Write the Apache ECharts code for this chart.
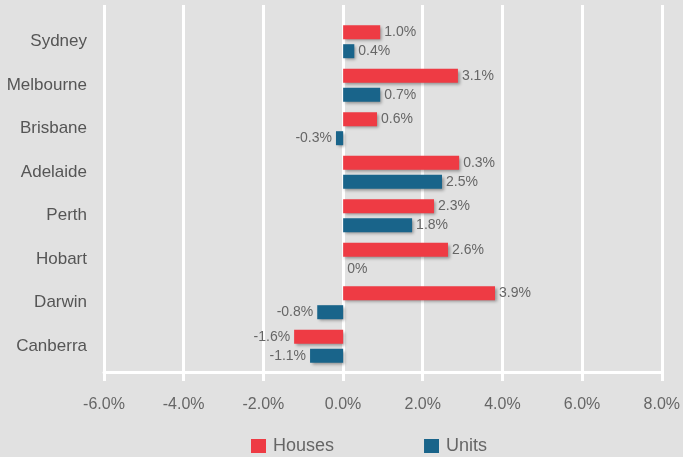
<!DOCTYPE html>
<html>
<head>
<meta charset="utf-8">
<script src="https://cdn.jsdelivr.net/npm/echarts@6/dist/echarts.min.js"></script>
<style>
html, body { margin: 0; padding: 0; background: #e1e1e1; }
#chart { width: 683px; height: 457px; }
</style>
</head>
<body>
<div id="chart"></div>
<script>
// cities, top to bottom
const cities = ['Sydney', 'Melbourne', 'Brisbane', 'Adelaide', 'Perth', 'Hobart', 'Darwin', 'Canberra'];
// bar lengths as drawn (%)
const houses = [0.93, 2.88, 0.85, 2.91, 2.28, 2.63, 3.81, -1.23];
const units = [0.28, 0.93, -0.18, 2.48, 1.73, 0, -0.65, -0.83];
// printed labels (as in the source)
const housesText = ['1.0%', '3.1%', '0.6%', '0.3%', '2.3%', '2.6%', '3.9%', '-1.6%'];
const unitsText = ['0.4%', '0.7%', '-0.3%', '2.5%', '1.8%', '0%', '-0.8%', '-1.1%'];
const xTicks = [-6, 8, 2]; // min, max, step

const chart = echarts.init(document.getElementById('chart'));

const txt = '#666';
const font = 'Liberation Sans, Arial, sans-serif';

// per-item label side: negatives go left
const items = (vals, labels) => vals.map((v, i) => ({
    value: v,
    label: { position: v < 0 ? 'left' : 'right', formatter: labels[i] }
}));

const barStyle = (c) => ({
    color: c,
    shadowColor: 'rgba(0,0,0,0.35)',
    shadowBlur: 3,
    shadowOffsetX: 2,
    shadowOffsetY: 2
});

const option = {
    backgroundColor: '#e1e1e1',
    animation: false,
    textStyle: { fontFamily: font },
    legend: {
        left: 246,
        top: 432,
        itemWidth: 15,
        itemHeight: 14,
        itemGap: 90,
        icon: 'rect',
        textStyle: { color: txt, fontSize: 18, fontFamily: font, padding: [0, 0, 0, 2] },
        data: ['Houses', 'Units']
    },
    grid: [
        // gridlines + value axis
        { left: 104, right: 21, top: 5, bottom: 85 },
        // bars
        { left: 104, right: 21, top: 20, bottom: 89 }
    ],
    xAxis: [
        {
            gridIndex: 0,
            type: 'value',
            min: xTicks[0],
            max: xTicks[1],
            interval: xTicks[2],
            axisLine: { show: true, lineStyle: { color: '#fff', width: 3 } },
            axisTick: { show: true, length: 9, lineStyle: { color: '#fff', width: 3 } },
            splitLine: { show: true, lineStyle: { color: '#fff', width: 3 } },
            axisLabel: {
                color: txt,
                fontSize: 16,
                margin: 25,
                formatter: v => v.toFixed(1) + '%'
            }
        },
        {
            gridIndex: 1,
            type: 'value',
            min: xTicks[0],
            max: xTicks[1],
            show: false
        }
    ],
    yAxis: [
        {
            gridIndex: 0,
            type: 'category',
            show: false,
            data: cities
        },
        {
            gridIndex: 1,
            type: 'category',
            inverse: true,
            data: cities,
            axisLine: { show: false },
            axisTick: { show: false },
            axisLabel: { color: '#555', fontSize: 17, margin: 17 }
        }
    ],
    series: [
        {
            name: 'Houses',
            type: 'bar',
            xAxisIndex: 1,
            yAxisIndex: 1,
            barWidth: 14,
            barGap: '35%',
            itemStyle: barStyle('#ee3b44'),
            label: { show: true, color: txt, fontSize: 14, distance: 4 },
            data: items(houses, housesText)
        },
        {
            name: 'Units',
            type: 'bar',
            xAxisIndex: 1,
            yAxisIndex: 1,
            barWidth: 14,
            itemStyle: barStyle('#19648a'),
            label: { show: true, color: txt, fontSize: 14, distance: 4 },
            data: items(units, unitsText)
        }
    ]
};

chart.setOption(option);
</script>
</body>
</html>
